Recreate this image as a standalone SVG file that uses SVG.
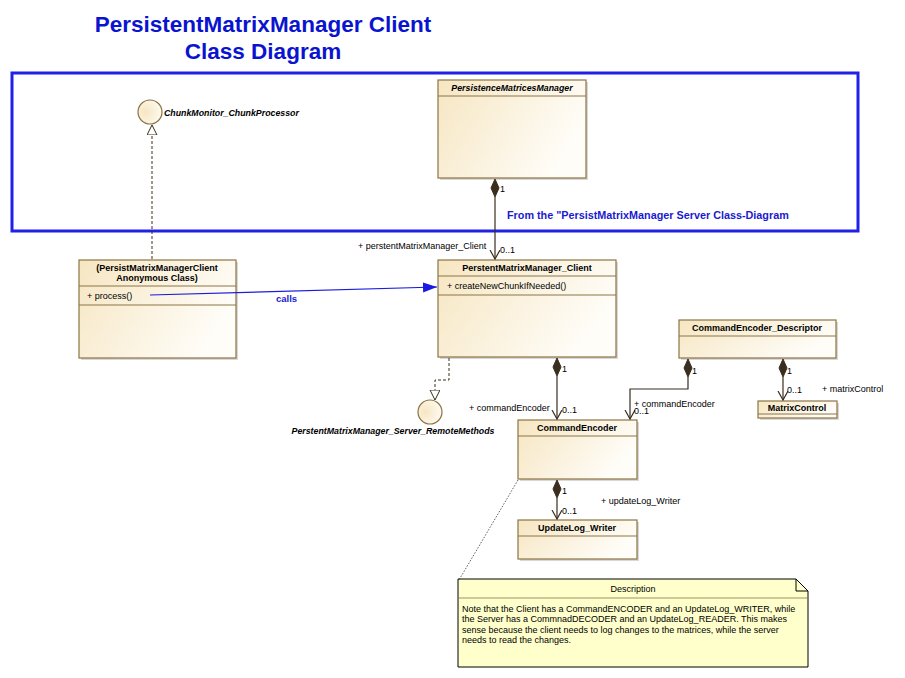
<svg xmlns="http://www.w3.org/2000/svg" width="905" height="678" viewBox="0 0 905 678">
<style>
text{font-family:"Liberation Sans",Arial,sans-serif;font-size:9px;fill:#000}
.b{font-weight:bold}
.i{font-style:italic;font-weight:bold;font-size:8.8px}
.cls{fill:url(#g);stroke:#8c7444;stroke-width:1.2}
.sh{fill:#d8d8d8}
.sep{stroke:#8c7444;stroke-width:1}
.ln{stroke:#3a2e1e;stroke-width:1.2;fill:none}
.dash{stroke:#3a2e1e;stroke-width:1;fill:none;stroke-dasharray:3,2}
.dia{fill:#3a2e1e;stroke:#3a2e1e}
.ttl{font-size:22.5px;font-weight:bold;fill:#0a14d0}
.blue{fill:#1a1ad0;font-weight:bold}
.from{font-size:10.8px}
.calls{font-size:9.5px}
</style>
<defs>
<linearGradient id="g" x1="0" y1="0" x2="1" y2="0.4">
<stop offset="0" stop-color="#f6e6c2"/>
<stop offset="1" stop-color="#fffdf8"/>
</linearGradient>
<radialGradient id="gc" cx="0.3" cy="0.5" r="0.8">
<stop offset="0" stop-color="#f6e6c2"/>
<stop offset="1" stop-color="#fffdf8"/>
</radialGradient>
<marker id="open" markerWidth="12" markerHeight="12" refX="9" refY="5" orient="auto" markerUnits="userSpaceOnUse">
<path d="M0,0 L9,5 L0,10" fill="none" stroke="#3a2e1e" stroke-width="1.2"/>
</marker>
<marker id="tri" markerWidth="12" markerHeight="12" refX="10" refY="5" orient="auto" markerUnits="userSpaceOnUse">
<path d="M0,0 L10,5 L0,10 Z" fill="#fff" stroke="#3a2e1e" stroke-width="1"/>
</marker>
<marker id="fill" markerWidth="16" markerHeight="12" refX="14" refY="5" orient="auto" markerUnits="userSpaceOnUse">
<path d="M0,0 L14,5 L0,10 Z" fill="#1a1ae0"/>
</marker>
</defs>
<rect width="905" height="678" fill="#fff"/>
<g id="title">
<text class="ttl" x="263" y="32" text-anchor="middle">PersistentMatrixManager Client</text>
<text class="ttl" x="263" y="59" text-anchor="middle">Class Diagram</text>
</g>
<g id="server-boundary">
<rect x="12" y="73" width="846" height="158" fill="none" stroke="#2020e8" stroke-width="3"/>
<text class="blue from" x="507" y="219">From the "PersistMatrixManager Server Class-Diagram</text>
</g>
<g id="ChunkMonitor_ChunkProcessor">
<circle cx="150" cy="112" r="12" fill="url(#gc)" stroke="#8c7444" stroke-width="1.2"/>
<text class="i" x="164" y="116">ChunkMonitor_ChunkProcessor</text>
</g>
<g id="PersistenceMatricesManager">
<rect class="sh" x="440" y="82" width="148" height="98"/>
<rect class="cls" x="438" y="80" width="148" height="98"/>
<line class="sep" x1="438" y1="96" x2="586" y2="96"/>
<text class="i" x="512" y="91" text-anchor="middle">PersistenceMatricesManager</text>
</g>
<g id="AnonymousClass">
<rect class="sh" x="81" y="262" width="157" height="98"/>
<rect class="cls" x="79" y="260" width="157" height="98"/>
<text class="b" x="157" y="271" text-anchor="middle">(PersistMatrixManagerClient</text>
<text class="b" x="157" y="281" text-anchor="middle">Anonymous Class)</text>
<line class="sep" x1="79" y1="286" x2="236" y2="286"/>
<text x="87" y="299">+ process()</text>
<line class="sep" x1="79" y1="305" x2="236" y2="305"/>
</g>
<g id="PerstentMatrixManager_Client">
<rect class="sh" x="440" y="262" width="178" height="97"/>
<rect class="cls" x="438" y="260" width="178" height="97"/>
<text class="b" x="527" y="271" text-anchor="middle">PerstentMatrixManager_Client</text>
<line class="sep" x1="438" y1="276" x2="616" y2="276"/>
<text x="447" y="289">+ createNewChunkIfNeeded()</text>
<line class="sep" x1="438" y1="295" x2="616" y2="295"/>
</g>
<g id="PerstentMatrixManager_Server_RemoteMethods">
<circle cx="430" cy="412" r="12" fill="url(#gc)" stroke="#8c7444" stroke-width="1.2"/>
<text class="i" x="393" y="434" text-anchor="middle">PerstentMatrixManager_Server_RemoteMethods</text>
</g>
<g id="CommandEncoder_Descriptor">
<rect class="sh" x="681" y="322" width="157" height="38"/>
<rect class="cls" x="679" y="320" width="157" height="38"/>
<text class="b" x="757" y="331" text-anchor="middle">CommandEncoder_Descriptor</text>
<line class="sep" x1="679" y1="336" x2="836" y2="336"/>
</g>
<g id="MatrixControl">
<rect class="sh" x="760" y="403" width="79" height="17"/>
<rect class="cls" x="758" y="401" width="79" height="17"/>
<text class="b" x="797" y="411" text-anchor="middle">MatrixControl</text>
<line class="sep" x1="758" y1="414" x2="837" y2="414"/>
</g>
<g id="CommandEncoder">
<rect class="sh" x="520" y="422" width="119" height="59"/>
<rect class="cls" x="518" y="420" width="119" height="59"/>
<text class="b" x="577" y="431" text-anchor="middle">CommandEncoder</text>
<line class="sep" x1="518" y1="436" x2="637" y2="436"/>
</g>
<g id="UpdateLog_Writer">
<rect class="sh" x="520" y="522" width="119" height="39"/>
<rect class="cls" x="518" y="520" width="119" height="39"/>
<text class="b" x="577" y="531" text-anchor="middle">UpdateLog_Writer</text>
<line class="sep" x1="518" y1="536" x2="637" y2="536"/>
</g>
<g id="Description">
<path d="M458,579 H796 L808,591 V667 H458 Z" fill="#ffffcc" stroke="#000" stroke-width="1"/>
<path d="M796,579 V591 H808" fill="none" stroke="#000" stroke-width="1"/>
<text x="633" y="592" text-anchor="middle">Description</text>
<line x1="458" y1="598" x2="808" y2="598" stroke="#8c7444" stroke-width="0.8"/>
<text x="462" y="612">Note that the Client has a CommandENCODER and an UpdateLog_WRITER, while</text>
<text x="462" y="622">the Server has a CommnadDECODER and an UpdateLog_READER. This makes</text>
<text x="462" y="633">sense because the client needs to log changes to the matrices, while the server</text>
<text x="462" y="643">needs to read the changes.</text>
</g>
<g id="connectors">
<line class="dash" x1="152" y1="259" x2="152" y2="125" marker-end="url(#tri)"/>
<path class="dash" d="M449,358 V380 H435 V400" marker-end="url(#tri)"/>
<line x1="150" y1="295" x2="437" y2="287" stroke="#1a1ae0" stroke-width="1.2" marker-end="url(#fill)"/>
<text class="blue calls" x="276" y="302">calls</text>
<path class="dia" d="M495,179 L499,188 L495,197 L491,188 Z"/>
<line class="ln" x1="495" y1="197" x2="495" y2="259" marker-end="url(#open)"/>
<text x="500" y="192">1</text>
<text x="500" y="253">0..1</text>
<text x="358" y="249">+ perstentMatrixManager_Client</text>
<path class="dia" d="M557,358 L561,367 L557,376 L553,367 Z"/>
<line class="ln" x1="557" y1="376" x2="557" y2="419" marker-end="url(#open)"/>
<text x="562" y="372">1</text>
<text x="562" y="413">0..1</text>
<text x="469" y="411">+ commandEncoder</text>
<path class="dia" d="M688,359 L692,368 L688,377 L684,368 Z"/>
<path class="ln" d="M688,377 V389 H630 V419" marker-end="url(#open)"/>
<text x="692" y="374">1</text>
<text x="634" y="407">+ commandEncoder</text>
<text x="634" y="414">0..1</text>
<path class="dia" d="M783,359 L787,368 L783,377 L779,368 Z"/>
<line class="ln" x1="783" y1="377" x2="783" y2="400" marker-end="url(#open)"/>
<text x="787" y="374">1</text>
<text x="787" y="393">0..1</text>
<text x="822" y="392">+ matrixControl</text>
<path class="dia" d="M557,480 L561,489 L557,498 L553,489 Z"/>
<line class="ln" x1="557" y1="498" x2="557" y2="519" marker-end="url(#open)"/>
<text x="562" y="494">1</text>
<text x="562" y="514">0..1</text>
<text x="601" y="504">+ updateLog_Writer</text>
<line x1="518" y1="480" x2="459" y2="580" stroke="#333" stroke-width="0.8" stroke-dasharray="1.5,1.5"/>
</g>
</svg>
